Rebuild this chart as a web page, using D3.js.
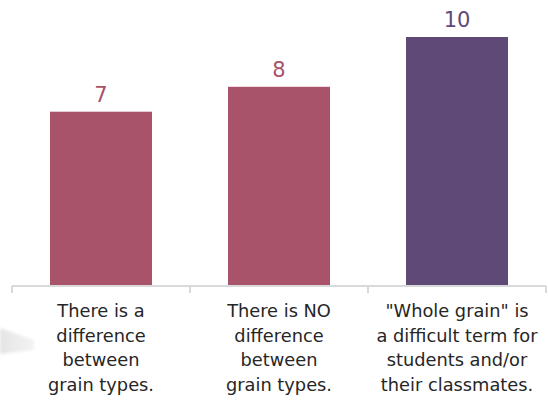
<!DOCTYPE html>
<meta charset="utf-8">
<style>
body { margin: 0; background: #fff; }
svg { display: block; }
</style>
<body>
<div id="chart"></div>
<script src="https://d3js.org/d3.v7.min.js"></script>
<script>

var categories = [
    ["There is a", "difference", "between", "grain types."],
    ["There is NO", "difference", "between", "grain types."],
    ["\"Whole grain\" is", "a difficult term for", "students and/or", "their classmates."]
];
var values = [7, 8, 10];
var barColors = ["#a85369", "#a85369", "#5f4a77"];

var width = 548,
    height = 404,
    axisY = 286;

var svg = d3.select("#chart").append("svg")
    .attr("width", width)
    .attr("height", height);

// faint grey arrow shape bleeding in from the left edge
var defs = svg.append("defs");
var grad = defs.append("linearGradient").attr("id", "fade");
grad.append("stop").attr("offset", "0%").attr("stop-color", "#e4e4e4");
grad.append("stop").attr("offset", "100%").attr("stop-color", "#f3f3f3");
defs.append("filter").attr("id", "soft")
    .append("feGaussianBlur").attr("stdDeviation", 1.5);
svg.append("path")
    .attr("d", "M0,328 L34,340 L34,350 L0,354 Z")
    .attr("fill", "url(#fade)")
    .attr("filter", "url(#soft)");

var x = d3.scaleBand()
    .domain(d3.range(values.length))
    .range([12, 546])
    .padding(0);

var y = d3.scaleLinear()
    .domain([0, 10])
    .range([axisY, 37]);

var barW = x.bandwidth() * 0.573;

svg.selectAll("rect.bar")
    .data(values)
    .enter().append("rect")
    .attr("class", "bar")
    .attr("x", function(d, i) { return x(i) + (x.bandwidth() - barW) / 2; })
    .attr("y", function(d) { return y(d); })
    .attr("width", barW)
    .attr("height", function(d) { return axisY - y(d); })
    .attr("fill", function(d, i) { return barColors[i]; });

svg.selectAll("text.val")
    .data(values)
    .enter().append("text")
    .attr("class", "val")
    .attr("x", function(d, i) { return x(i) + x.bandwidth() / 2; })
    .attr("y", function(d) { return y(d) - 10; })
    .attr("text-anchor", "middle")
    .attr("font-family", "'DejaVu Sans', sans-serif")
    .attr("font-size", 21)
    .attr("fill", function(d, i) { return barColors[i]; })
    .text(function(d) { return d; });

// axis line with category dividers
var axis = svg.append("g").attr("stroke", "#d9d9d9").attr("stroke-width", 2).attr("fill", "none");
axis.append("line")
    .attr("x1", x.range()[0]).attr("x2", x.range()[1])
    .attr("y1", axisY).attr("y2", axisY);
var tickXs = d3.range(values.length).map(function(i) { return x(i); }).concat([x.range()[1]]);
axis.selectAll("line.tick")
    .data(tickXs)
    .enter().append("line")
    .attr("class", "tick")
    .attr("x1", function(d) { return d; }).attr("x2", function(d) { return d; })
    .attr("y1", axisY).attr("y2", axisY + 7);

var labels = svg.selectAll("text.cat")
    .data(categories)
    .enter().append("text")
    .attr("class", "cat")
    .attr("text-anchor", "middle")
    .attr("font-family", "'DejaVu Sans', sans-serif")
    .attr("font-size", 17.8)
    .attr("fill", "#262626");

labels.selectAll("tspan")
    .data(function(d, i) { return d.map(function(t) { return {t: t, i: i}; }); })
    .enter().append("tspan")
    .attr("x", function(d) { return x(d.i) + x.bandwidth() / 2; })
    .attr("y", function(d, j) { return 317 + j * 24.6; })
    .text(function(d) { return d.t; });

</script>
